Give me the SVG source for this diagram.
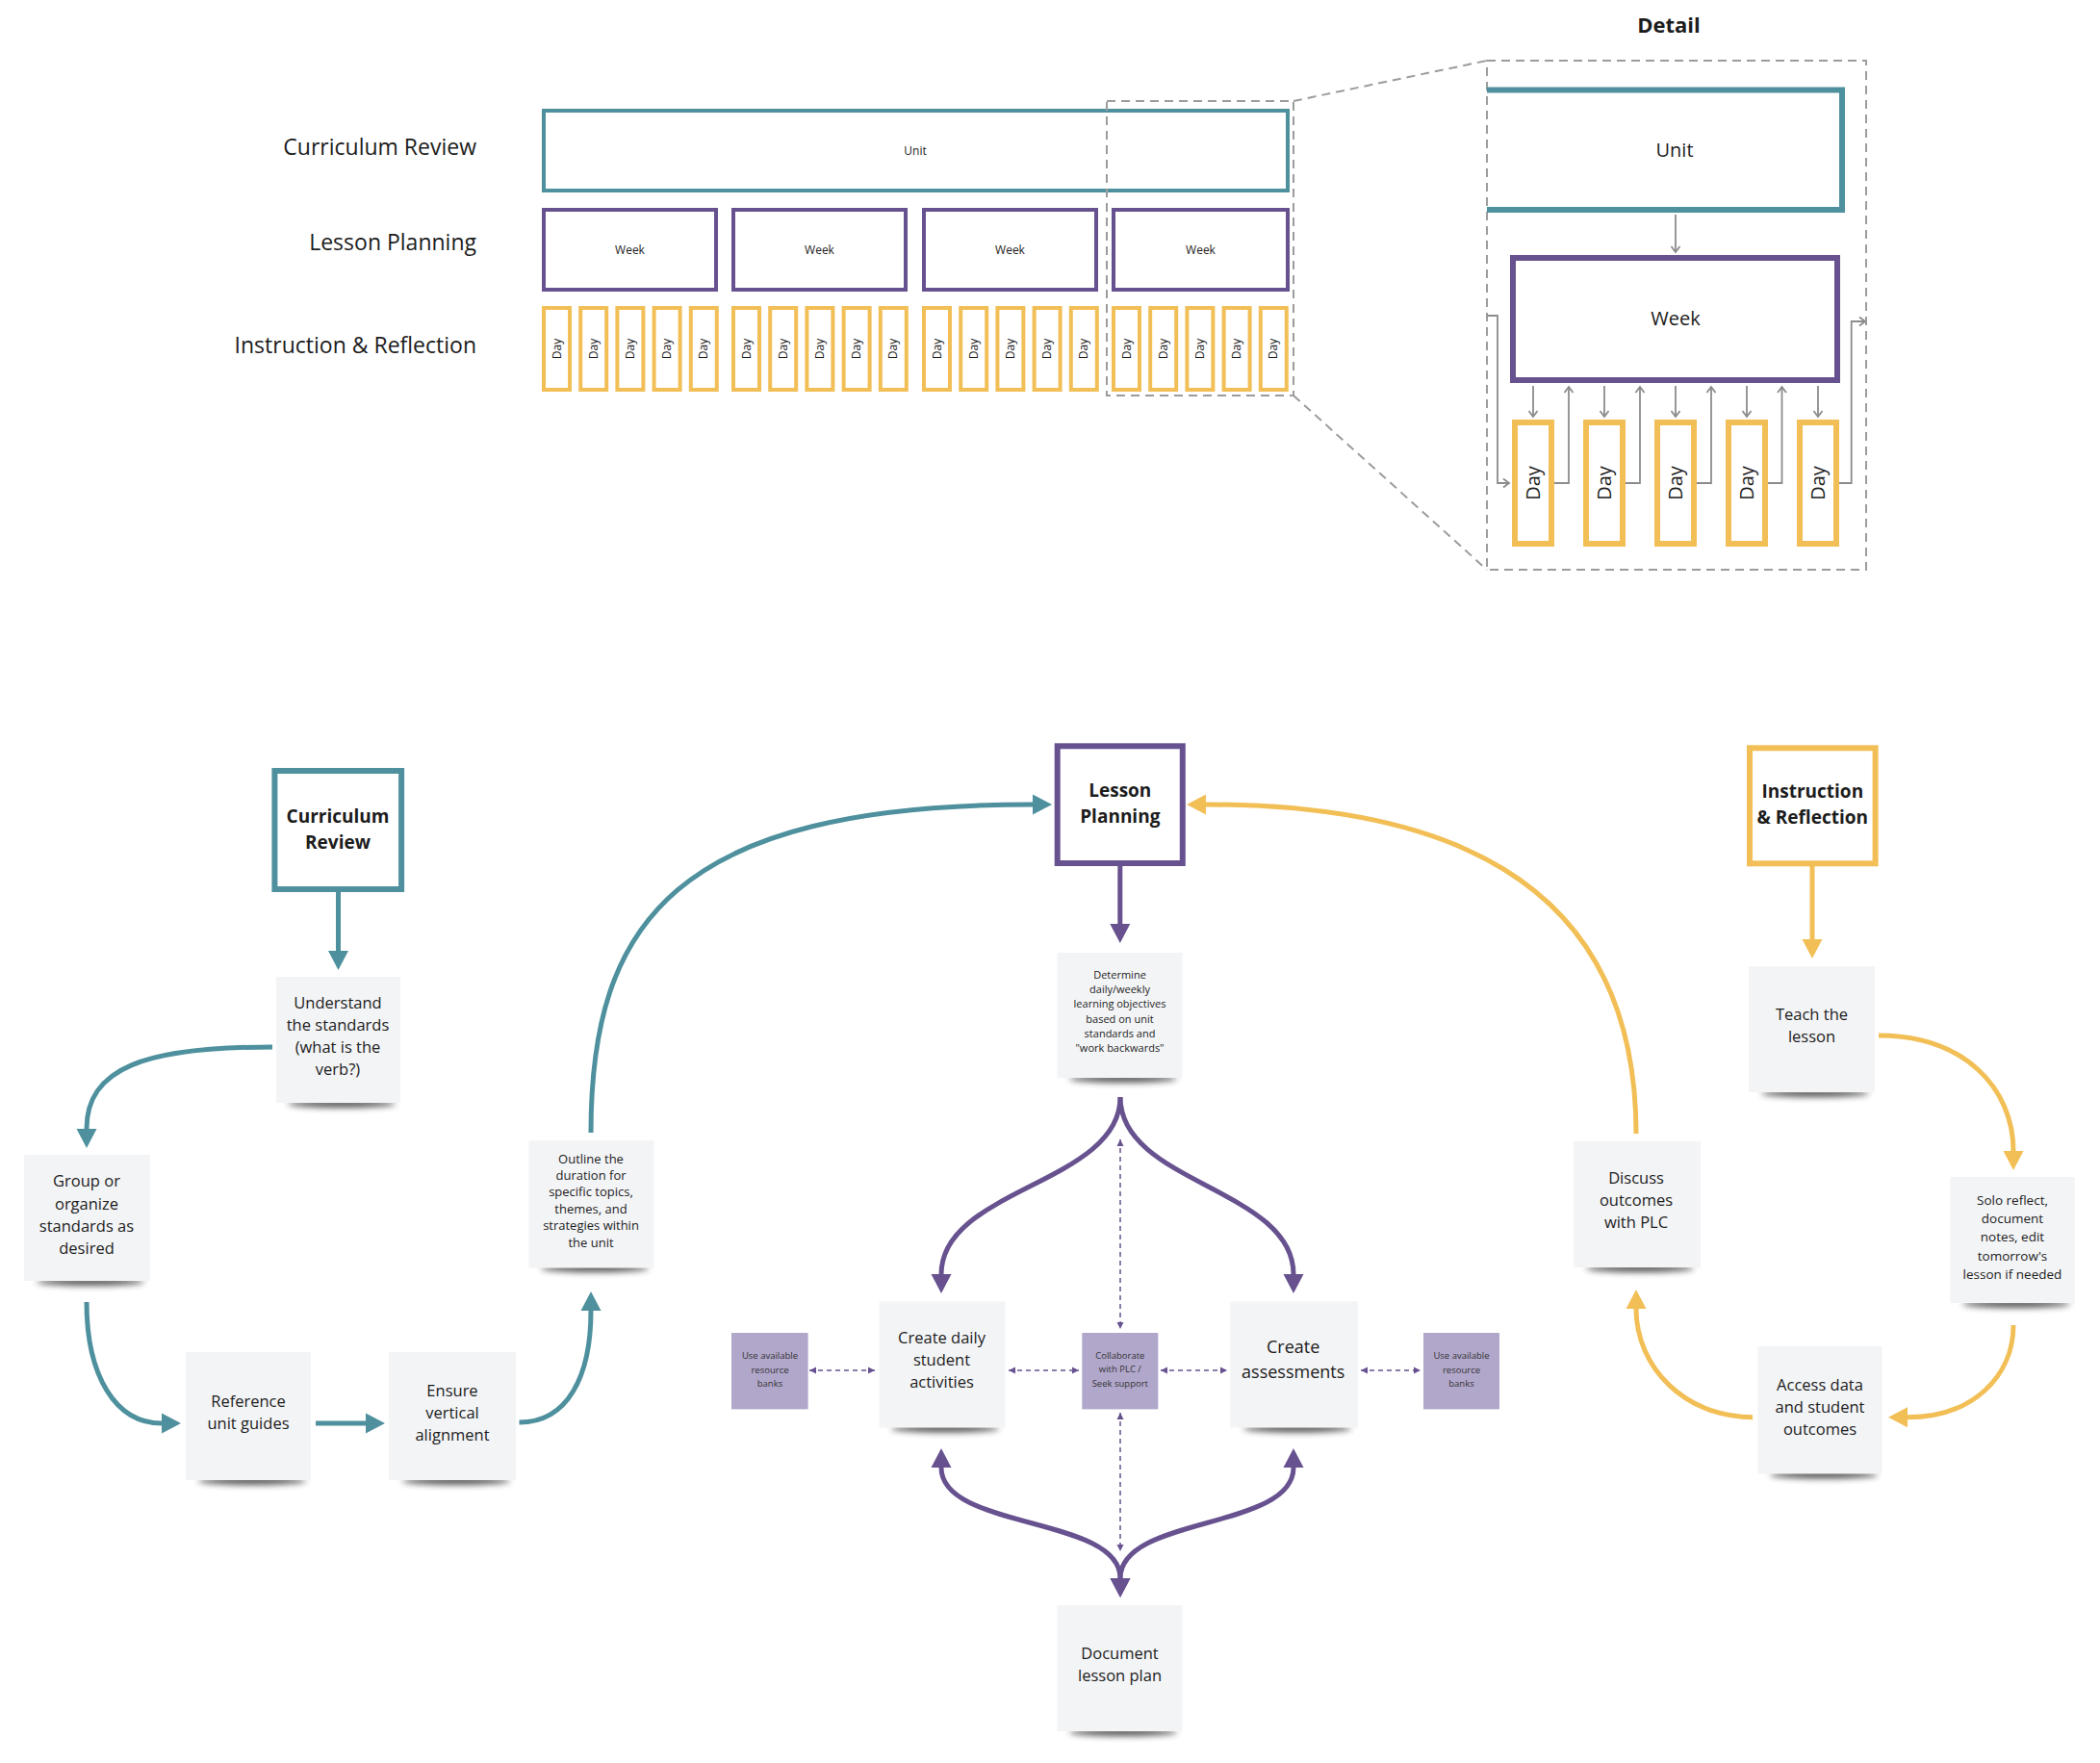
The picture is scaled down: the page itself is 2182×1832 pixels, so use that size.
<svg xmlns="http://www.w3.org/2000/svg" width="2182" height="1832" viewBox="0 0 2182 1832">
<defs>
<style>
text{font-family:"Open Sans","Liberation Sans",sans-serif;fill:#1c1c1c;text-anchor:middle}
.lbl{font-size:23px;text-anchor:end}
.hd{font-size:19px;font-weight:700}
.s12{font-size:12px}
.s20{font-size:20px}
.n17{font-size:16.5px}
.n13{font-size:13px}
.n11{font-size:11px}
.n9{font-size:9.5px;fill:#333}
.unit{fill:#fff;stroke:#4E909D;stroke-width:4}
.week{fill:#fff;stroke:#67528F;stroke-width:4}
.day{fill:#fff;stroke:#F2BF57;stroke-width:4}
.dash{fill:none;stroke:#9C9C9C;stroke-width:2;stroke-dasharray:9 6}
.garr{fill:none;stroke:#8C8C8C;stroke-width:1.8;marker-end:url(#chev)}
.note{fill:#F3F4F6}
.shd{fill:#2e2e2e;opacity:.8;filter:url(#blur)}
.lav{fill:#B1A7CB}
.ct{fill:none;stroke:#4E909D;stroke-width:5;marker-end:url(#at)}
.cp{fill:none;stroke:#67528F;stroke-width:5;marker-end:url(#ap)}
.cy{fill:none;stroke:#F2BF57;stroke-width:5;marker-end:url(#ay)}
.cd{fill:none;stroke:#67528F;stroke-width:1.5;stroke-dasharray:5 4;marker-end:url(#sd);marker-start:url(#sds)}
</style>
<filter id="blur" x="-20%" y="-200%" width="140%" height="500%"><feGaussianBlur stdDeviation="3"/></filter>
<marker id="at" markerUnits="userSpaceOnUse" markerWidth="22" markerHeight="22" viewBox="0 -11 20 22" refX="0" refY="0" orient="auto"><path d="M0,-10.5 L20,0 L0,10.5 z" fill="#4E909D"/></marker>
<marker id="ap" markerUnits="userSpaceOnUse" markerWidth="22" markerHeight="22" viewBox="0 -11 20 22" refX="0" refY="0" orient="auto"><path d="M0,-10.5 L20,0 L0,10.5 z" fill="#67528F"/></marker>
<marker id="aps" markerUnits="userSpaceOnUse" markerWidth="22" markerHeight="22" viewBox="0 -11 20 22" refX="0" refY="0" orient="auto-start-reverse"><path d="M0,-10.5 L20,0 L0,10.5 z" fill="#67528F"/></marker>
<marker id="ay" markerUnits="userSpaceOnUse" markerWidth="22" markerHeight="22" viewBox="0 -11 20 22" refX="0" refY="0" orient="auto"><path d="M0,-10.5 L20,0 L0,10.5 z" fill="#F2BF57"/></marker>
<marker id="sd" markerUnits="userSpaceOnUse" markerWidth="8" markerHeight="8" viewBox="-7 -4 8 8" refX="0" refY="0" orient="auto"><path d="M-7,-3.5 L0,0 L-7,3.5 z" fill="#67528F"/></marker>
<marker id="sds" markerUnits="userSpaceOnUse" markerWidth="8" markerHeight="8" viewBox="-7 -4 8 8" refX="0" refY="0" orient="auto-start-reverse"><path d="M-7,-3.5 L0,0 L-7,3.5 z" fill="#67528F"/></marker>
<marker id="chev" markerUnits="userSpaceOnUse" markerWidth="12" markerHeight="12" viewBox="-8 -6 10 12" refX="0" refY="0" orient="auto"><path d="M-6,-4.5 L0,0 L-6,4.5" fill="none" stroke="#8C8C8C" stroke-width="1.8"/></marker>
<g id="dayS"><rect class="day" x="2" y="2" width="27" height="85"/><text class="s12" transform="translate(15.5,44.5) rotate(-90)" dy="4">Day</text></g>
<g id="dayL"><rect class="day" x="3" y="3" width="38" height="126" style="stroke-width:6"/><text class="s20" transform="translate(22,66) rotate(-90)" dy="7">Day</text></g>
</defs>
<rect width="2182" height="1832" fill="#fff"/>

<!-- Top overview -->
<g id="top-labels">
<text class="lbl" x="495" y="161">Curriculum Review</text>
<text class="lbl" x="495" y="260">Lesson Planning</text>
<text class="lbl" x="495" y="367">Instruction &amp; Reflection</text>
</g>
<g id="top-unit"><rect class="unit" x="565" y="115" width="773" height="83"/><text class="s12" x="951" y="161">Unit</text></g>
<g id="top-weeks">
<rect class="week" x="565" y="218" width="179" height="83"/><text class="s12" x="654.5" y="264">Week</text>
<rect class="week" x="762" y="218" width="179" height="83"/><text class="s12" x="851.5" y="264">Week</text>
<rect class="week" x="960" y="218" width="179" height="83"/><text class="s12" x="1049.5" y="264">Week</text>
<rect class="week" x="1157" y="218" width="181" height="83"/><text class="s12" x="1247.5" y="264">Week</text>
</g>
<g id="top-days">
<use href="#dayS" x="563" y="318"/><use href="#dayS" x="601.2" y="318"/><use href="#dayS" x="639.4" y="318"/><use href="#dayS" x="677.6" y="318"/><use href="#dayS" x="715.8" y="318"/>
<use href="#dayS" x="760" y="318"/><use href="#dayS" x="798.2" y="318"/><use href="#dayS" x="836.4" y="318"/><use href="#dayS" x="874.6" y="318"/><use href="#dayS" x="912.8" y="318"/>
<use href="#dayS" x="958" y="318"/><use href="#dayS" x="996.2" y="318"/><use href="#dayS" x="1034.4" y="318"/><use href="#dayS" x="1072.6" y="318"/><use href="#dayS" x="1110.8" y="318"/>
<use href="#dayS" x="1155" y="318"/><use href="#dayS" x="1193.2" y="318"/><use href="#dayS" x="1231.4" y="318"/><use href="#dayS" x="1269.6" y="318"/><use href="#dayS" x="1307.8" y="318"/>
</g>
<g id="zoom-frame">
<rect class="dash" x="1150" y="105" width="194" height="306"/>
<path class="dash" d="M1344 105 L1545 63 M1344 411 L1545 592"/>
<rect class="dash" x="1545" y="63" width="394" height="529"/>
</g>

<!-- Detail -->
<text x="1734" y="34" style="font-size:22px;font-weight:700">Detail</text>
<g id="detail-unit"><path d="M1545 93.5 L1914 93.5 L1914 218 L1545 218" fill="none" stroke="#4E909D" stroke-width="6"/><text class="s20" x="1740" y="163">Unit</text></g>
<g id="detail-week"><rect class="week" x="1572" y="268" width="337" height="127" style="stroke-width:6"/><text class="s20" x="1741" y="338">Week</text></g>
<g id="detail-days">
<use href="#dayL" x="1571" y="436"/><use href="#dayL" x="1645" y="436"/><use href="#dayL" x="1719" y="436"/><use href="#dayL" x="1793" y="436"/><use href="#dayL" x="1867" y="436"/>
</g>
<g id="detail-connectors">
<path class="garr" d="M1741 223 L1741 262"/>
<path class="garr" d="M1545 328 L1556 328 L1556 502 L1568 502"/>
<path class="garr" d="M1593 401 L1593 433"/>
<path class="garr" d="M1667 401 L1667 433"/>
<path class="garr" d="M1741 401 L1741 433"/>
<path class="garr" d="M1815 401 L1815 433"/>
<path class="garr" d="M1889 401 L1889 433"/>
<path class="garr" d="M1615 502 L1630 502 L1630 402"/>
<path class="garr" d="M1689 502 L1704 502 L1704 402"/>
<path class="garr" d="M1763 502 L1778 502 L1778 402"/>
<path class="garr" d="M1837 502 L1851.5 502 L1851.5 402"/>
<path class="garr" d="M1911 502 L1923.7 502 L1923.7 334 L1938 334"/>
</g>

<!-- Bottom process -->
<g id="connectors">
<path class="ct" d="M351.5 927 L351.5 988"/>
<path class="ct" d="M283 1088 C150 1088 90 1110 90 1173"/>
<path class="ct" d="M90 1353 C90 1430 120 1479 168 1479"/>
<path class="ct" d="M328 1479 L380 1479"/>
<path class="ct" d="M539.5 1478 C590 1478 614 1430 614 1362"/>
<path class="ct" d="M614 1177 C614 960 700 836 1073 836"/>
<path class="cp" d="M1163.8 900 L1163.8 960"/>
<path class="cp" d="M1164 1140 C1164 1230 978 1235 978 1324"/>
<path class="cp" d="M1164 1140 C1164 1230 1344 1235 1344 1324"/>
<path class="cp" d="M978 1525 C978 1590 1164 1575 1164 1640" style="marker-start:url(#aps)"/>
<path class="cp" d="M1344 1525 C1344 1590 1164 1575 1164 1640" style="marker-start:url(#aps)"/>
<path class="cd" d="M1164 1184 L1164 1381"/>
<path class="cd" d="M1164 1468 L1164 1612"/>
<path class="cd" d="M841 1424 L909 1424"/>
<path class="cd" d="M1048 1424 L1121 1424"/>
<path class="cd" d="M1206 1424 L1275 1424"/>
<path class="cd" d="M1414 1424 L1476 1424"/>
<path class="cy" d="M1883 900 L1883 976"/>
<path class="cy" d="M1952 1076 C2040 1076 2092 1130 2092 1196"/>
<path class="cy" d="M2092 1377 C2092 1430 2050 1472.7 1982 1472.7"/>
<path class="cy" d="M1821 1472.7 C1750 1472.7 1700 1420 1700 1360"/>
<path class="cy" d="M1700 1178 C1700 900 1480 836 1253 836"/>
</g>

<g id="curriculum-review"><rect x="285.4" y="801" width="131.7" height="123" fill="#fff" stroke="#4E909D" stroke-width="6"/><text class="hd" x="351" y="855">Curriculum</text><text class="hd" x="351" y="882">Review</text></g>
<g id="lesson-planning"><rect x="1098.7" y="775.3" width="130.1" height="121.7" fill="#fff" stroke="#67528F" stroke-width="6"/><text class="hd" x="1163.8" y="828">Lesson</text><text class="hd" x="1163.8" y="855">Planning</text></g>
<g id="instruction-reflection"><rect x="1818" y="777.3" width="130.6" height="120" fill="#fff" stroke="#F2BF57" stroke-width="6"/><text class="hd" x="1883.3" y="829">Instruction</text><text class="hd" x="1883.3" y="856">&amp; Reflection</text></g>

<g id="n-understand"><ellipse class="shd" cx="355" cy="1147" rx="56" ry="4"/><rect class="note" x="287" y="1015" width="129" height="131"/><text class="n17" x="351" y="1047.5">Understand</text><text class="n17" x="351" y="1071">the standards</text><text class="n17" x="351" y="1094">(what is the</text><text class="n17" x="351" y="1117">verb?)</text></g>
<g id="n-group"><ellipse class="shd" cx="94" cy="1332" rx="56" ry="4"/><rect class="note" x="25" y="1200" width="131" height="131"/><text class="n17" x="90" y="1233">Group or</text><text class="n17" x="90" y="1257">organize</text><text class="n17" x="90" y="1280">standards as</text><text class="n17" x="90" y="1303">desired</text></g>
<g id="n-reference"><ellipse class="shd" cx="262" cy="1539" rx="56" ry="4"/><rect class="note" x="193" y="1405" width="130" height="133"/><text class="n17" x="258" y="1461.5">Reference</text><text class="n17" x="258" y="1485.4">unit guides</text></g>
<g id="n-ensure"><ellipse class="shd" cx="474" cy="1539" rx="56" ry="4"/><rect class="note" x="404" y="1405" width="132" height="133"/><text class="n17" x="470" y="1450.7">Ensure</text><text class="n17" x="470" y="1474">vertical</text><text class="n17" x="470" y="1497">alignment</text></g>
<g id="n-outline"><ellipse class="shd" cx="618" cy="1318" rx="56" ry="4"/><rect class="note" x="549.5" y="1185" width="130" height="132.5"/><text class="n13" x="614" y="1208.6">Outline the</text><text class="n13" x="614" y="1226">duration for</text><text class="n13" x="614" y="1243.4">specific topics,</text><text class="n13" x="614" y="1260.8">themes, and</text><text class="n13" x="614" y="1278.2">strategies within</text><text class="n13" x="614" y="1295.6">the unit</text></g>

<g id="n-determine"><ellipse class="shd" cx="1167" cy="1121" rx="56" ry="4"/><rect class="note" x="1098.5" y="990" width="130" height="130"/><text class="n11" x="1163.5" y="1016.6">Determine</text><text class="n11" x="1163.5" y="1031.9">daily/weekly</text><text class="n11" x="1163.5" y="1047.2">learning objectives</text><text class="n11" x="1163.5" y="1062.5">based on unit</text><text class="n11" x="1163.5" y="1077.8">standards and</text><text class="n11" x="1163.5" y="1093.1">"work backwards"</text></g>
<g id="n-res-left"><rect class="lav" x="760" y="1385" width="79.6" height="79.4"/><text class="n9" x="800" y="1412.4">Use available</text><text class="n9" x="800" y="1426.6">resource</text><text class="n9" x="800" y="1440.8">banks</text></g>
<g id="n-activities"><ellipse class="shd" cx="982" cy="1484.5" rx="56" ry="4"/><rect class="note" x="913.6" y="1352.5" width="131" height="131"/><text class="n17" x="978.5" y="1396">Create daily</text><text class="n17" x="978.5" y="1419">student</text><text class="n17" x="978.5" y="1442">activities</text></g>
<g id="n-collaborate"><rect class="lav" x="1124.3" y="1385" width="79" height="79.4"/><text class="n9" x="1163.8" y="1412.4">Collaborate</text><text class="n9" x="1163.8" y="1426.4">with PLC /</text><text class="n9" x="1163.8" y="1440.6">Seek support</text></g>
<g id="n-assessments"><ellipse class="shd" cx="1348" cy="1484.5" rx="56" ry="4"/><rect class="note" x="1278.4" y="1352.5" width="132.6" height="131"/><text class="n17" x="1343.7" y="1406.3" style="font-size:18px">Create</text><text class="n17" x="1343.7" y="1431.8" style="font-size:18px">assessments</text></g>
<g id="n-res-right"><rect class="lav" x="1479" y="1385" width="79" height="79.4"/><text class="n9" x="1518.5" y="1412.4">Use available</text><text class="n9" x="1518.5" y="1426.6">resource</text><text class="n9" x="1518.5" y="1440.8">banks</text></g>
<g id="n-document"><ellipse class="shd" cx="1167" cy="1800" rx="56" ry="4"/><rect class="note" x="1098.5" y="1668" width="130" height="131"/><text class="n17" x="1163.5" y="1724.4">Document</text><text class="n17" x="1163.5" y="1747">lesson plan</text></g>

<g id="n-teach"><ellipse class="shd" cx="1886" cy="1136" rx="56" ry="4"/><rect class="note" x="1817" y="1004" width="131" height="131"/><text class="n17" x="1882.5" y="1060">Teach the</text><text class="n17" x="1882.5" y="1083">lesson</text></g>
<g id="n-solo"><ellipse class="shd" cx="2095" cy="1355" rx="56" ry="4"/><rect class="note" x="2026.5" y="1223" width="129.3" height="131"/><text class="n13" x="2091" y="1251.5" style="font-size:13.5px">Solo reflect,</text><text class="n13" x="2091" y="1270.8" style="font-size:13.5px">document</text><text class="n13" x="2091" y="1290.3" style="font-size:13.5px">notes, edit</text><text class="n13" x="2091" y="1310.2" style="font-size:13.5px">tomorrow's</text><text class="n13" x="2091" y="1328.8" style="font-size:13.5px">lesson if needed</text></g>
<g id="n-access"><ellipse class="shd" cx="1895" cy="1532.5" rx="56" ry="4"/><rect class="note" x="1826.5" y="1399" width="129" height="132.4"/><text class="n17" x="1891" y="1444.6">Access data</text><text class="n17" x="1891" y="1467.5">and student</text><text class="n17" x="1891" y="1490.5">outcomes</text></g>
<g id="n-discuss"><ellipse class="shd" cx="1704" cy="1318" rx="56" ry="4"/><rect class="note" x="1635" y="1186" width="132" height="131"/><text class="n17" x="1700" y="1230">Discuss</text><text class="n17" x="1700" y="1253">outcomes</text><text class="n17" x="1700" y="1276">with PLC</text></g>
</svg>
